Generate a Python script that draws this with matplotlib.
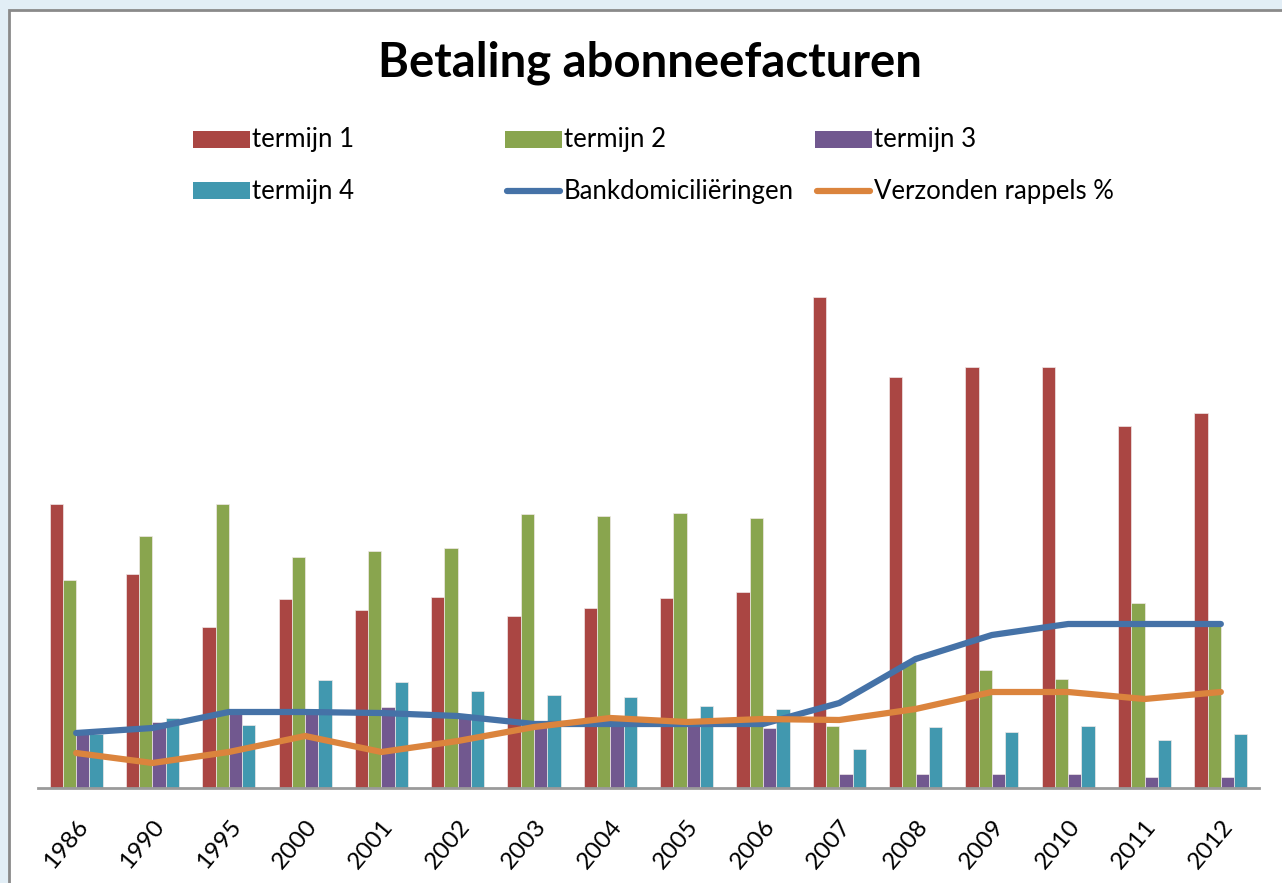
import matplotlib
matplotlib.use("Agg")
import matplotlib.pyplot as plt
import numpy as np
from matplotlib.patches import Rectangle
from matplotlib.lines import Line2D

years = ["1986", "1990", "1995", "2000", "2001", "2002", "2003", "2004",
         "2005", "2006", "2007", "2008", "2009", "2010", "2011", "2012"]
termijn1 = [284, 214, 161, 189, 178, 191, 172, 180, 190, 196, 491, 411, 421, 421, 362, 375]
termijn2 = [208, 252, 284, 231, 237, 240, 274, 272, 275, 270, 62, 126, 118, 109, 185, 162]
termijn3 = [54, 66, 77, 77, 81, 74, 66, 66, 64, 60, 14, 14, 14, 14, 11, 11]
termijn4 = [54, 70, 63, 108, 106, 97, 93, 91, 82, 79, 39, 61, 56, 62, 48, 54]
bankdom = [55, 60, 76, 76, 75, 72, 64, 64, 64, 64, 85, 129, 153, 164, 164, 164]
rappels = [35, 25, 36, 52, 36, 47, 61, 70, 66, 69, 68, 79, 96, 96, 89, 96]

series_names = ["termijn 1", "termijn 2", "termijn 3", "termijn 4"]
bar_colors = ["#AA4643", "#89A54E", "#71588F", "#4198AF"]
line_names = ["Bankdomiciliëringen", "Verzonden rappels %"]
line_colors = ["#4572A7", "#DB843D"]

plt.rcParams['font.family'] = ['Lato', 'DejaVu Sans']

W, H = 1282, 883
fig = plt.figure(figsize=(W / 100, H / 100), dpi=100)
fig.patch.set_facecolor("#e2eef6")

# white chart frame (behind everything)
frame = Rectangle((9 / W, -0.1), 1.1, 1.1 - 10 / H, transform=fig.transFigure,
                  facecolor="white", edgecolor="#8a8a8a", linewidth=2, zorder=-10)
fig.add_artist(frame)

ax = fig.add_axes([38 / W, 1 - 788 / H, (1259 - 38) / W, 560 / H])
ax.set_facecolor("none")
ax.set_zorder(1)

x = np.arange(len(years))
bw = 0.174
all_bars = [termijn1, termijn2, termijn3, termijn4]
for i, (vals, c) in enumerate(zip(all_bars, bar_colors)):
    ax.bar(x + (i - 1.5) * bw, vals, width=bw, color=c, edgecolor="#f0e8e8", linewidth=0.5, zorder=2)

ax.plot(x, bankdom, color=line_colors[0], linewidth=4.5, solid_capstyle="round", zorder=3)
ax.plot(x, rappels, color=line_colors[1], linewidth=4.5, solid_capstyle="round", zorder=3)

ax.set_xlim(-0.5, len(years) - 0.5)
ax.set_ylim(0, 560)
ax.set_yticks([])
for s in ["top", "right", "left"]:
    ax.spines[s].set_visible(False)
ax.spines["bottom"].set_color("#9a9a9a")
ax.spines["bottom"].set_linewidth(2)
ax.set_xticks(x)
ax.set_xticklabels(years, rotation=50, ha="right", va="top", rotation_mode="anchor", fontsize=17.5)
ax.tick_params(axis="x", length=0, pad=20)

fig.text(650 / W, 1 - 63 / H, "Betaling abonneefacturen", ha="center", va="center",
         fontsize=34, fontweight="bold")

# legend (manual, Excel-like equal column widths)
leg_items = [
    ("bar", bar_colors[0], series_names[0], 193, 140),
    ("bar", bar_colors[1], series_names[1], 505, 140),
    ("bar", bar_colors[2], series_names[2], 815, 140),
    ("bar", bar_colors[3], series_names[3], 193, 191),
    ("line", line_colors[0], line_names[0], 505, 191),
    ("line", line_colors[1], line_names[1], 815, 191),
]
for kind, c, lab, px, py in leg_items:
    if kind == "bar":
        fig.add_artist(Rectangle((px / W, 1 - (py + 8) / H), 57 / W, 17 / H,
                                 transform=fig.transFigure, facecolor=c, edgecolor="none"))
    else:
        fig.add_artist(Line2D([(px + 2) / W, (px + 55) / W], [1 - py / H, 1 - py / H],
                              transform=fig.transFigure, color=c, linewidth=4.5,
                              solid_capstyle="round"))
    fig.text((px + 59) / W, 1 - py / H, lab, ha="left", va="center", fontsize=18.5)

fig.savefig("out.png", dpi=100, facecolor=fig.get_facecolor())
